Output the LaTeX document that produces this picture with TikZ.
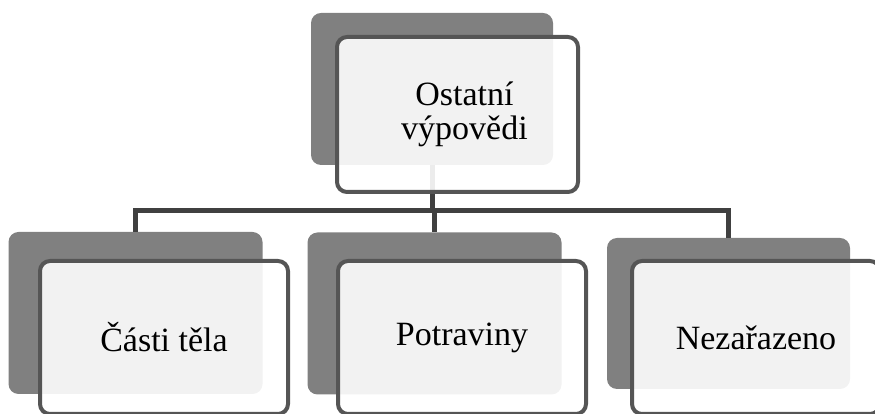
\documentclass[tikz,border=0pt]{standalone}
\usepackage{fontspec}
\setmainfont{Liberation Serif}
\usepackage{tikz}
\usetikzlibrary{positioning, calc}

\definecolor{backgray}{RGB}{128,128,128}
\definecolor{rimgray}{RGB}{85,85,85}
\definecolor{linkgray}{RGB}{64,64,64}

\begin{document}
\begin{tikzpicture}[x=1pt, y=1pt,
		back/.style={rectangle, rounded corners=10pt, fill=backgray, inner sep=0pt},
		front/.style={rectangle, rounded corners=10pt, draw=rimgray, line width=4pt,
			fill=white, fill opacity=0.9, text opacity=1, inner sep=0pt,
			minimum width=248pt, minimum height=153pt, align=center,
			font=\fontsize{34}{34}\selectfont},
		link/.style={draw=linkgray, line width=5pt}]
			\useasboundingbox (0,0) rectangle (875,414);
			\clip (0,0) rectangle (875,414);
			% back boxes
			\node[back, minimum width=242pt, minimum height=152pt] (ob) at (432,325) {};
			\node[back, minimum width=254pt, minimum height=162pt] (cb) at (135.5,101) {};
			\node[back, minimum width=254pt, minimum height=162pt] (pb) at (434.5,100.5) {};
			\node[back, minimum width=243pt, minimum height=151pt] (nb) at (728.5,100.5) {};
			% connectors
			\coordinate (bar) at (432,203);
			\foreach \to in {cb,pb,nb}
				\draw[link] (ob.south) -- (ob.south |- bar) -| (\to.north);
			% front boxes
			\node[front, minimum width=241pt, minimum height=155pt] (o) at (457.5,299.5) {\hspace*{14pt}Ostatní\\\hspace*{14pt}výpovědi};
			\node[front] (c) at (164,76.5) {Části těla};
			\node[front] (p) at (462,76.5) {Potraviny};
			\node[front] (n) at (756,76.5) {Nezařazeno};
		\end{tikzpicture}
\end{document}
